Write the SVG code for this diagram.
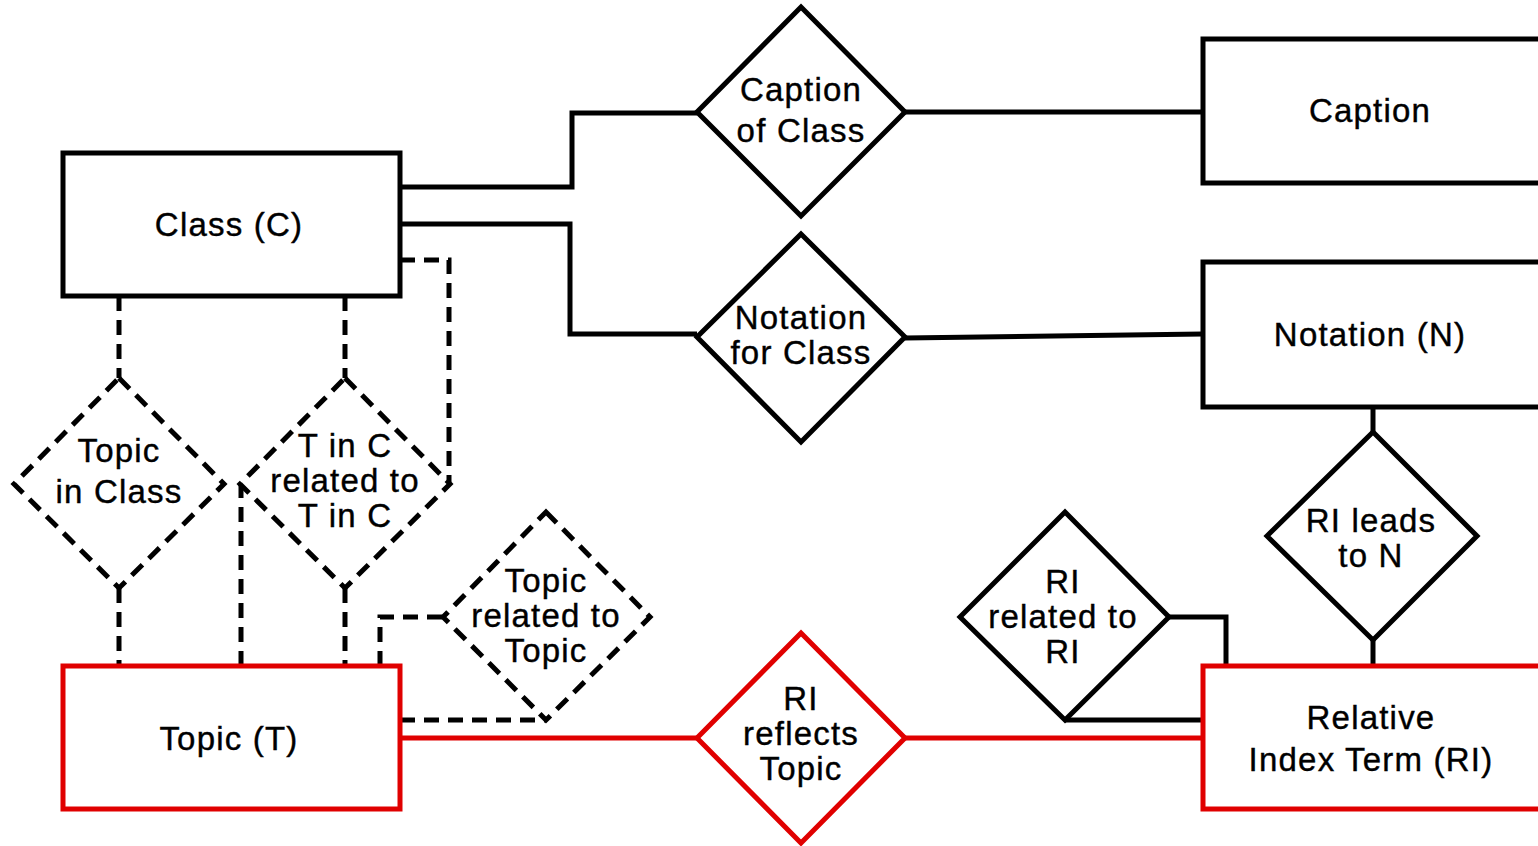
<svg xmlns="http://www.w3.org/2000/svg" width="1538" height="846" viewBox="0 0 1538 846">
<style>
.box{fill:#fff;stroke:#000;stroke-width:5}
.rbox{fill:#fff;stroke:#e00000;stroke-width:5}
.dia{fill:#fff;stroke:#000;stroke-width:5;stroke-linejoin:miter}
.ddia{fill:#fff;stroke:#000;stroke-width:5;stroke-dasharray:15 9}
.rdia{fill:#fff;stroke:#e00000;stroke-width:5}
.ln{fill:none;stroke:#000;stroke-width:5}
.dln{fill:none;stroke:#000;stroke-width:5;stroke-dasharray:15 9}
.rln{fill:none;stroke:#e00000;stroke-width:5}
text{font-family:"Liberation Sans",Arial,sans-serif;font-size:33px;letter-spacing:1.2px;fill:#000;stroke:#000;stroke-width:0.4;text-anchor:middle}
</style>
<rect width="1538" height="846" fill="#fff"/>
<g id="connectors">
<polyline class="ln" points="400,187 572,187 572,113 697,113"/>
<polyline class="ln" points="400,224 570,224 570,334 697,334"/>
<line class="ln" x1="905" y1="112" x2="1203" y2="112"/>
<line class="ln" x1="905" y1="338" x2="1203" y2="334"/>
<line class="dln" x1="119" y1="296" x2="119" y2="378"/>
<line class="dln" x1="119" y1="588" x2="119" y2="666"/>
<line class="dln" x1="345" y1="296" x2="345" y2="378"/>
<line class="dln" x1="345" y1="588" x2="345" y2="666"/>
<polyline class="dln" points="400,260 449,260 449,482"/>
<line class="dln" x1="241" y1="666" x2="241" y2="484"/>
<polyline class="dln" points="380,666 380,617 443,617"/>
<line class="dln" x1="400" y1="720" x2="546" y2="720"/>
<line class="rln" x1="400" y1="738" x2="697" y2="738"/>
<line class="rln" x1="905" y1="738" x2="1203" y2="738"/>
<line class="ln" x1="1373" y1="407" x2="1373" y2="432"/>
<line class="ln" x1="1373" y1="640" x2="1373" y2="666"/>
<polyline class="ln" points="1169,617 1226,617 1226,666"/>
<line class="ln" x1="1065" y1="720" x2="1203" y2="720"/>
</g>
<g id="class">
<rect class="box" x="63" y="153" width="337" height="143"/>
<text x="229" y="236">Class (C)</text>
</g>
<g id="caption">
<rect class="box" x="1203" y="39" width="345" height="144"/>
<text x="1370" y="122">Caption</text>
</g>
<g id="notation">
<rect class="box" x="1203" y="262" width="345" height="145"/>
<text x="1370" y="346">Notation (N)</text>
</g>
<g id="topic">
<rect class="rbox" x="63" y="666" width="337" height="143"/>
<text x="229" y="750">Topic (T)</text>
</g>
<g id="relative-index-term">
<rect class="rbox" x="1203" y="666" width="345" height="143"/>
<text x="1371" y="729">Relative</text>
<text x="1371" y="771">Index Term (RI)</text>
</g>
<g id="caption-of-class">
<polygon class="dia" points="801,7 905,112 801,216 697,112"/>
<text x="801" y="101">Caption</text>
<text x="801" y="142">of Class</text>
</g>
<g id="notation-for-class">
<polygon class="dia" points="801,234 905,337 801,442 697,337"/>
<text x="801" y="329">Notation</text>
<text x="801" y="364">for Class</text>
</g>
<g id="topic-in-class">
<polygon class="ddia" points="119,378 224,484 119,588 14,484"/>
<text x="119" y="462">Topic</text>
<text x="119" y="503">in Class</text>
</g>
<g id="tinc-related">
<polygon class="ddia" points="345,378 450,484 345,588 240,484"/>
<text x="345" y="457">T in C</text>
<text x="345" y="492">related to</text>
<text x="345" y="527">T in C</text>
</g>
<g id="topic-related">
<polygon class="ddia" points="546,512 650,617 546,720 443,617"/>
<text x="546" y="592">Topic</text>
<text x="546" y="627">related to</text>
<text x="546" y="662">Topic</text>
</g>
<g id="ri-reflects-topic">
<polygon class="rdia" points="801,633 905,738 801,843 697,738"/>
<text x="801" y="710">RI</text>
<text x="801" y="745">reflects</text>
<text x="801" y="780">Topic</text>
</g>
<g id="ri-leads-to-n">
<polygon class="dia" points="1373,432 1477,536 1373,640 1267,536"/>
<text x="1371" y="532">RI leads</text>
<text x="1371" y="567">to N</text>
</g>
<g id="ri-related-ri">
<polygon class="dia" points="1065,512 1169,617 1065,720 960,617"/>
<text x="1063" y="593">RI</text>
<text x="1063" y="628">related to</text>
<text x="1063" y="663">RI</text>
</g>
</svg>
